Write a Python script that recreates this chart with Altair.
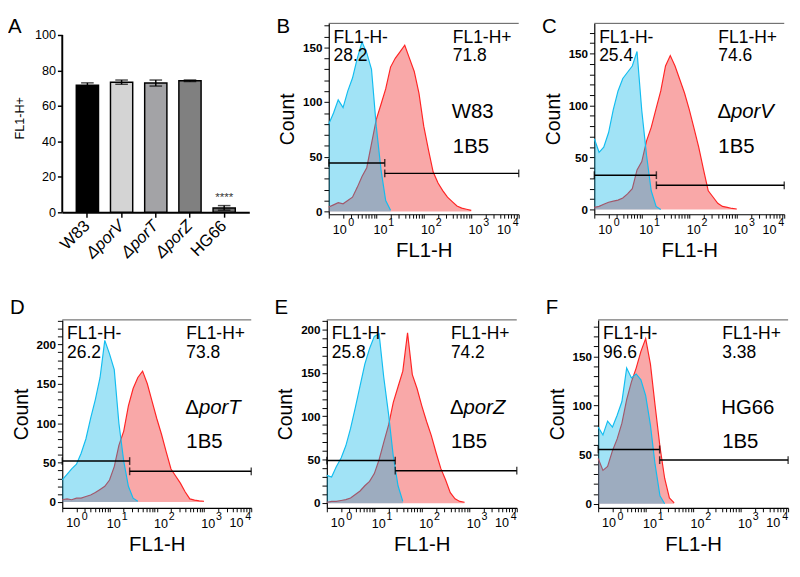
import altair as alt
import pandas as pd

FONT = "Liberation Sans"

# ---------------- Panel A data ----------------
strains = ["W83", "ΔporV", "ΔporT", "ΔporZ", "HG66"]
fl1_pos_mean = [71.7, 73.4, 72.9, 74.2, 2.5]
fl1_pos_sd = [1.3, 1.2, 1.7, 0.4, 1.3]
bar_colors = ["#000000", "#d4d4d4", "#a3a3a6", "#808080", "#6e6e6e"]
significance = ["", "", "", "", "****"]
a_yticks = [0, 20, 40, 60, 80, 100]

# ---------------- Histogram data (FL1-H channel bins, 0.1 decade) ----------------
fl1_grid = [1, 1.26, 1.58, 2.0, 2.51, 3.16, 3.98, 5.01, 6.31, 7.94,
            10, 12.6, 15.8, 20.0, 25.1, 31.6, 39.8, 50.1, 63.1, 79.4,
            100, 126, 158, 200, 251, 316, 398, 501, 631, 794,
            1000, 1259, 1585]

# B: W83
b_blue = [80, 90, 102, 95, 110, 122, 140, 155, 145, 130, 78, 38, 10, 1]
b_red = [4, 6, 8, 7, 10, 13, 22, 32, 40, 62, 84, 98, 112, 132, 140, 146, 152,
         140, 128, 108, 78, 56, 36, 26, 19, 13, 9, 5, 3, 2, 1]
# C: porV
c_blue = [68, 55, 60, 74, 96, 114, 126, 132, 138, 152, 95, 52, 18, 3, 0]
c_red = [2, 3, 5, 7, 8, 9, 11, 15, 20, 38, 46, 66, 79, 97, 114, 138, 148,
         138, 125, 112, 96, 78, 60, 38, 18, 12, 6, 3, 2, 1, 0.5]
# D: porT
d_blue = [28, 35, 42, 48, 62, 80, 106, 130, 158, 205, 188, 168, 100, 52, 20, 5, 1]
d_red = [3, 4, 3, 5, 5, 7, 9, 12, 16, 20, 28, 45, 72, 90, 122, 144, 158, 166,
         150, 128, 106, 86, 64, 42, 33, 24, 13, 4, 2.5, 1.5, 1]
# E: porZ
e_blue = [32, 30, 42, 52, 66, 86, 110, 135, 160, 178, 192, 195, 145, 102, 54, 20, 2]
e_red = [1, 2, 2, 3, 4, 6, 10, 14, 20, 25, 34, 50, 70, 90, 116, 134, 152, 196,
         148, 132, 112, 94, 78, 58, 40, 27, 12, 5, 2, 1]
# F: HG66
f_blue = [78, 70, 84, 78, 90, 104, 138, 128, 132, 126, 110, 80, 40, 8, 0]
f_red = [46, 34, 38, 54, 66, 82, 106, 124, 138, 155, 168, 142, 100, 58, 26, 6, 1]

# gates: threshold, negative-gate height, positive-gate height
gate_thr = {"B": 15.1, "C": 20.3, "D": 26.7, "E": 27.6, "F": 19.7}
gate_neg_y = {"B": 44.3, "C": 33.0, "D": 52.0, "E": 49.0, "F": 55.2}
gate_pos_y = {"B": 34.8, "C": 23.3, "D": 39.0, "E": 37.4, "F": 44.5}
pct_neg = {"B": "28.2", "C": "25.4", "D": "26.2", "E": "25.8", "F": "96.6"}
pct_pos = {"B": "71.8", "C": "74.6", "D": "73.8", "E": "74.2", "F": "3.38"}
name_delta = {"B": "", "C": "Δ", "D": "Δ", "E": "Δ", "F": ""}
name_main = {"B": "W83", "C": "porV", "D": "porT", "E": "porZ", "F": "HG66"}
antibody = "1B5"
y_domain = {"B": [-2.6, 172], "C": [-4.6, 179], "D": [-7.4, 231],
            "E": [-5.5, 211], "F": [-4.2, 187]}
y_top_tick = {"B": 170, "C": 170, "D": 230, "E": 210, "F": 180}

decades = [1, 10, 100, 1000, 10000]
exponents = ["0", "1", "2", "3", "4"]
x_ticks = [m * 10 ** e for e in range(4) for m in range(1, 10)] + [10000]

BLUE_LINE = "#12bdf0"
BLUE_FILL = "#00b2e6"
RED_LINE = "#ff2424"
RED_FILL = "#f03030"


def one(v):
    return pd.DataFrame({"t": [v]})


def letter_layer(letter, dx, dy):
    return alt.Chart(one(letter)).mark_text(
        align="left", baseline="alphabetic", fontSize=21, font=FONT, color="black"
    ).encode(x=alt.value(dx), y=alt.value(dy), text="t:N")


def spacer(w, h, ext):
    # invisible mark that widens the panel's layout bounds to the right
    return alt.Chart(one(0)).mark_rule(opacity=0).encode(
        x=alt.value(w), x2=alt.value(w + ext), y=alt.value(h))


def hist_panel(key, w, h, letter_dy, ext=0):
    blue = pd.DataFrame({"fl1": fl1_grid[:len(b_list[key][0])], "count": b_list[key][0]})
    red = pd.DataFrame({"fl1": fl1_grid[:len(b_list[key][1])], "count": b_list[key][1]})
    thr = gate_thr[key]
    xs = alt.Scale(type="log", domain=[1, 10000], nice=False)
    ys = alt.Scale(domain=y_domain[key], nice=False, zero=False)
    xax = alt.Axis(values=x_ticks,
                   labelExpr="indexof([10,100,1000], datum.value) >= 0 ? '10' : ''",
                   labelOverlap=False, labelFlush=False, labelOffset=4,
                   labelFontSize=13, labelPadding=6, tickSize=4, tickWidth=1,
                   domainWidth=1.2, title="FL1-H", titleFontSize=21,
                   titleFontWeight="normal", titlePadding=4)
    yax = alt.Axis(values=list(range(0, y_top_tick[key] + 1, 10)),
                   labelExpr="datum.value % 50 == 0 ? datum.label : ''",
                   labelOverlap=False,
                   labelFontSize=12, labelFontWeight="bold", labelPadding=2,
                   tickSize=5, tickWidth=1, domainWidth=1.2, title="Count",
                   titleFontSize=20, titleFontWeight="normal", titlePadding=5)
    X = alt.X("fl1:Q", scale=xs, axis=xax)
    Y = alt.Y("count:Q", scale=ys, axis=yax)

    red_area = alt.Chart(red).mark_area(color=RED_FILL, opacity=0.42).encode(
        x=X, y=Y, y2=alt.value(h))
    red_line = alt.Chart(red).mark_line(color=RED_LINE, strokeWidth=1.2).encode(x=X, y=Y)
    blue_area = alt.Chart(blue).mark_area(color=BLUE_FILL, opacity=0.37).encode(
        x=X, y=Y, y2=alt.value(h))
    blue_line = alt.Chart(blue).mark_line(color=BLUE_LINE, strokeWidth=1.2).encode(x=X, y=Y)

    gates = pd.DataFrame({"fl1": [1, thr], "fl1_end": [thr, 10000],
                          "count": [gate_neg_y[key], gate_pos_y[key]]})
    gate_rule = alt.Chart(gates).mark_rule(color="black", strokeWidth=1.5).encode(
        x=X, x2="fl1_end:Q", y=Y)
    caps = pd.DataFrame({"fl1": [1, thr, thr, 10000],
                         "count": [gate_neg_y[key], gate_neg_y[key], gate_pos_y[key], gate_pos_y[key]]})
    gate_caps = alt.Chart(caps).mark_tick(orient="vertical", size=8, thickness=1.5,
                                          color="black").encode(x=X, y=Y)

    dec = pd.DataFrame({"fl1": decades, "e": exponents})
    tx = dict(baseline="top", font=FONT, color="black")
    first10 = alt.Chart(dec).transform_filter("datum.fl1 == 1").mark_text(
        align="left", dx=4, fontSize=13, **tx).encode(x=X, y=alt.value(h + 10), text=alt.value("10"))
    last10 = alt.Chart(dec).transform_filter("datum.fl1 == 10000").mark_text(
        align="right", dx=-8, fontSize=13, **tx).encode(x=X, y=alt.value(h + 10), text=alt.value("10"))
    exp_first = alt.Chart(dec).transform_filter("datum.fl1 == 1").mark_text(
        align="left", dx=20, fontSize=11, **tx).encode(x=X, y=alt.value(h + 3), text="e:N")
    exp_mid = alt.Chart(dec).transform_filter("datum.fl1 > 1 && datum.fl1 < 10000").mark_text(
        align="left", dx=12.5, fontSize=11, **tx).encode(x=X, y=alt.value(h + 3), text="e:N")
    exp_last = alt.Chart(dec).transform_filter("datum.fl1 == 10000").mark_text(
        align="right", dx=0, fontSize=11, **tx).encode(x=X, y=alt.value(h + 3), text="e:N")

    top_border = alt.Chart(one(0)).mark_rule(color="#555555", strokeWidth=1).encode(
        x=alt.value(0), x2=alt.value(w), y=alt.value(0))

    ann = dict(align="left", baseline="alphabetic", font=FONT, color="black")
    neg_txt = alt.Chart(one("FL1-H-\n" + pct_neg[key])).mark_text(
        fontSize=18, lineBreak="\n", lineHeight=19, **ann).encode(
        x=alt.value(5), y=alt.value(20), text="t:N")
    pos_txt = alt.Chart(one("FL1-H+\n" + pct_pos[key])).mark_text(
        fontSize=18, lineBreak="\n", lineHeight=19, **ann).encode(
        x=alt.value(128), y=alt.value(20), text="t:N")
    nx = 127
    ny = round(h * 0.5)
    layers = [red_area, red_line, blue_area, blue_line, gate_rule, gate_caps,
              first10, last10, exp_first, exp_mid, exp_last, top_border, neg_txt, pos_txt]
    if name_delta[key]:
        layers.append(alt.Chart(one(name_delta[key])).mark_text(fontSize=21, **ann).encode(
            x=alt.value(nx), y=alt.value(ny), text="t:N"))
        layers.append(alt.Chart(one(name_main[key])).mark_text(
            fontSize=21, fontStyle="italic", **ann).encode(
            x=alt.value(nx + 14), y=alt.value(ny), text="t:N"))
    else:
        layers.append(alt.Chart(one(name_main[key])).mark_text(fontSize=21, **ann).encode(
            x=alt.value(nx), y=alt.value(ny), text="t:N"))
    layers.append(alt.Chart(one(antibody)).mark_text(fontSize=21, **ann).encode(
        x=alt.value(nx + 1), y=alt.value(round(h * 0.68)), text="t:N"))
    layers.append(letter_layer(key, -54, letter_dy))
    if ext:
        layers.append(spacer(w, h, ext))
    return alt.layer(*layers).properties(width=w, height=h)


b_list = {"B": (b_blue, b_red), "C": (c_blue, c_red), "D": (d_blue, d_red),
          "E": (e_blue, e_red), "F": (f_blue, f_red)}

H1 = 197   # row-1 plot height
H2 = 194   # row-2 plot height

# ---------------- Panel A ----------------
bar_df = pd.DataFrame({"strain": strains, "mean": fl1_pos_mean, "sd": fl1_pos_sd,
                       "sig": significance})
AW, AH = 193, H1 - 2
a_top = 100 + 12 / ((AH - 12) / 100)
a_scale = alt.Scale(domain=[0, a_top], nice=False)
a_xaxis = alt.Axis(title=None, labelAngle=-45, labelAlign="right",
                   labelBaseline="middle", labelFontSize=17, labelPadding=6,
                   labelFontStyle={"condition": {"test": "indexof(datum.label, 'por') >= 0",
                                                 "value": "italic"}, "value": "normal"},
                   tickSize=5, tickWidth=1.5, domainWidth=2)
a_yaxis = alt.Axis(values=a_yticks, title="FL1-H+", titleFontSize=13,
                   titleFontWeight="normal", titlePadding=8, labelFontSize=13,
                   labelOverlap=False, labelFlush=False, labelPadding=2,
                   tickSize=5, tickWidth=1.5, domain=False)
ax_x = alt.X("strain:N", sort=strains,
             scale=alt.Scale(paddingInner=0.35, paddingOuter=0.41), axis=a_xaxis)


def ay(field):
    return alt.Y(field, type="quantitative", scale=a_scale, axis=a_yaxis)


base_a = alt.Chart(bar_df).transform_calculate(
    lo="datum.mean - datum.sd", hi="datum.mean + datum.sd")
bars = base_a.mark_bar(stroke="black", strokeWidth=1.5).encode(
    x=ax_x, y=ay("mean"),
    color=alt.Color("strain:N", scale=alt.Scale(domain=strains, range=bar_colors), legend=None))
err = base_a.mark_rule(color="black", strokeWidth=1.5).encode(
    x=ax_x, y=ay("lo"), y2="hi:Q")
cap_hi = base_a.mark_tick(color="black", size=13, thickness=1.5).encode(x=ax_x, y=ay("hi"))
cap_lo = base_a.mark_tick(color="black", size=13, thickness=1.5).encode(x=ax_x, y=ay("lo"))
stars = base_a.mark_text(fontSize=12, dy=-9, font=FONT, color="#333333").encode(
    x=ax_x, y=ay("hi"), text="sig:N")
axis_span = pd.DataFrame({"y0": [0], "y1": [100]})
y_line = alt.Chart(axis_span).mark_rule(color="black", strokeWidth=2).encode(
    x=alt.value(0), y=ay("y0"), y2="y1:Q")
panel_a = alt.layer(bars, err, cap_hi, cap_lo, stars, y_line,
                    letter_layer("A", -56, 10), spacer(AW, AH, 8)).properties(
    width=AW, height=AH)

panel_b = hist_panel("B", 196, H1, 10)
panel_c = hist_panel("C", 196, H1, 10)
panel_d = hist_panel("D", 195, H2, -6, ext=2)
panel_e = hist_panel("E", 196, H2, -6, ext=10)
panel_f = hist_panel("F", 196, H2, -6)

row1 = alt.hconcat(panel_a, panel_b, panel_c, spacing=20)
row2 = alt.hconcat(panel_d, panel_e, panel_f, spacing=20)
chart = alt.vconcat(row1, row2, spacing=37).properties(padding=0).configure(
    font=FONT
).configure_view(stroke=None).configure_axis(
    domainColor="black", tickColor="black", labelColor="black", titleColor="black",
    grid=False, labelFont=FONT, titleFont=FONT
)

chart.save("out.html", embed_options={"renderer": "svg", "actions": False})
